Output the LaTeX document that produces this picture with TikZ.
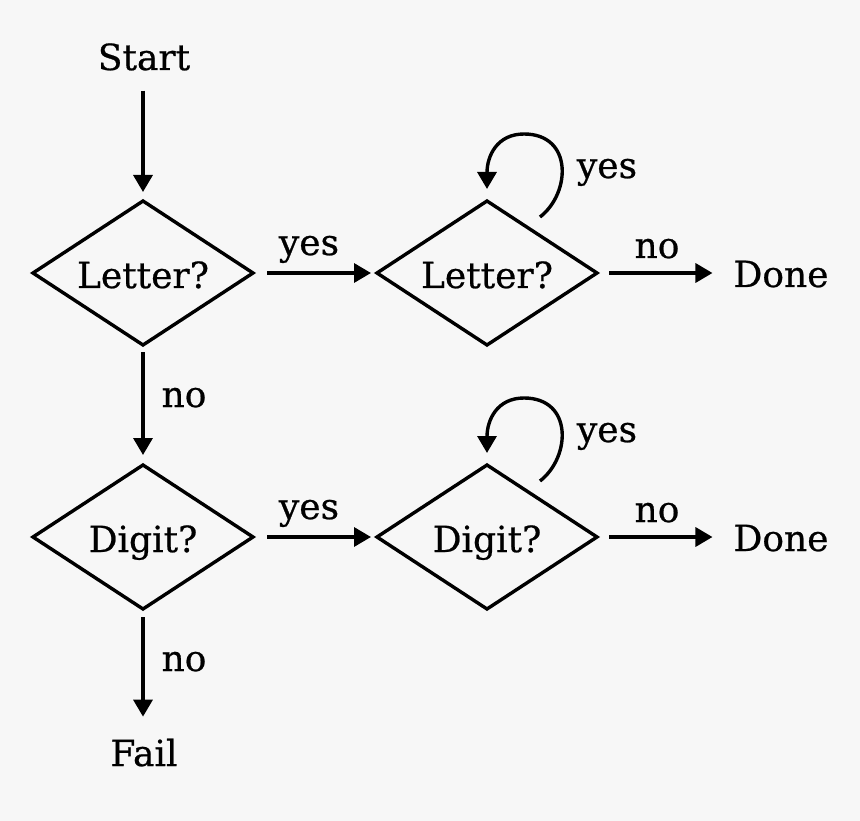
\documentclass[tikz,border=0pt]{standalone}
\usepackage{fontspec}
\setmainfont[FakeBold=0.6]{DejaVu Serif}
\usetikzlibrary{shapes.geometric,arrows.meta,calc}
\definecolor{bgc}{RGB}{247,247,247}
\tikzset{
  dia/.style={draw, line width=3.4pt, shape=diamond, aspect=1.53, minimum width=220pt, minimum height=144pt, inner sep=0pt, outer sep=0pt, text height=30pt, text depth=0pt},
  txt/.style={inner sep=0pt, outer sep=0pt, anchor=base},
  arr/.style={line width=3.4pt, -{Triangle[length=17pt,width=19pt]}},
}
\begin{document}
\begin{tikzpicture}[x=1pt,y=-1pt,font=\fontsize{36}{40}\selectfont]
\fill[bgc] (0,0) rectangle (860,821);
\useasboundingbox (0,0) rectangle (860,821);
% decision nodes
\node[dia] (d1) at (143,273) {Letter?};
\node[dia] (d2) at (487,273) {Letter?};
\node[dia] (d3) at (143,537) {Digit?};
\node[dia] (d4) at (487,537) {Digit?};
% terminal texts
\node[txt] (start) at (144,70) {Start};
\node[txt] (done1) at (781,287) {Done};
\node[txt] (done2) at (781,551) {Done};
\node[txt] (fail) at (144,766) {Fail};
% labels
\node[txt] (lyes1) at (309,255) {yes};
\node[txt] (lyes2) at (309,519) {yes};
\node[txt] (lno1) at (657,258) {no};
\node[txt] (lno2) at (657,522) {no};
\node[txt] (lno3) at (184,407) {no};
\node[txt] (lno4) at (184,671) {no};
\node[txt] (lloop1) at (607,178) {yes};
\node[txt] (lloop2) at (607,442) {yes};
% connectors
\draw[arr, shorten <=20pt, shorten >=9pt] (d1.north |- start.south) -- (d1.north);
\draw[arr, shorten <=14pt, shorten >=6pt] (d1.east) -- (d2.west);
\draw[arr, shorten <=14pt, shorten >=6pt] (d3.east) -- (d4.west);
\draw[arr, shorten <=12pt, shorten >=21pt] (d2.east) -- (d2.east -| done1.west);
\draw[arr, shorten <=12pt, shorten >=21pt] (d4.east) -- (d4.east -| done2.west);
\draw[arr, shorten <=7pt, shorten >=10pt] (d1.south) -- (d3.north);
\draw[arr, shorten <=8pt, shorten >=22pt] (d3.south) -- (d3.south |- fail.north);
% self loops
\foreach \d in {d2,d4}{
  \draw[arr] ($(\d.north)+(53,16)$) .. controls ($(\d.north)+(84,-8)$) and ($(\d.north)+(86,-67)$) .. ($(\d.north)+(37,-67)$)
     .. controls ($(\d.north)+(10,-67)$) and ($(\d.north)+(0,-45)$) .. ($(\d.north)+(0,-12)$);
}
\end{tikzpicture}
\end{document}
